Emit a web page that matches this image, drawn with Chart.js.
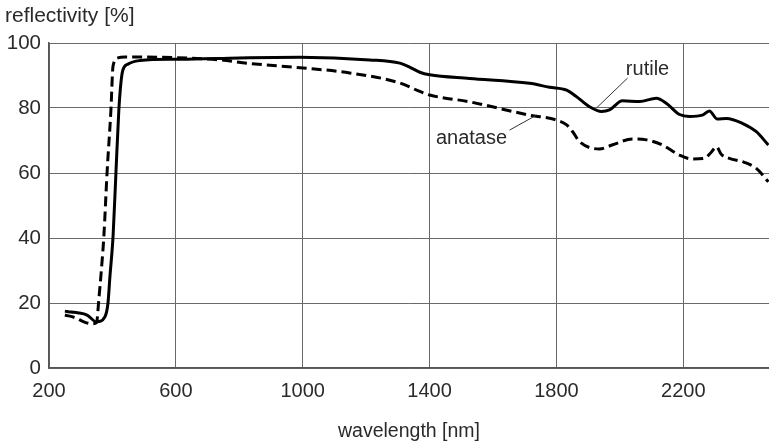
<!DOCTYPE html>
<html>
<head>
<meta charset="utf-8">
<script src="https://cdn.jsdelivr.net/npm/chart.js@4/dist/chart.umd.min.js"></script>
<style>
  html, body { margin: 0; padding: 0; background: #ffffff; }
  #wrap { position: relative; width: 769px; height: 446px; }
</style>
</head>
<body>
<div id="wrap"><canvas id="c" width="769" height="446"></canvas></div>
<script>
// ---- data ----
const xTicks = [200, 600, 1000, 1400, 1800, 2200];
const yTicks = [0, 20, 40, 60, 80, 100];

const rutileNm = [250, 270, 290, 320, 350, 376, 386, 392, 402, 411, 420, 427, 433, 449, 487, 581, 613, 800, 991, 1211, 1306, 1337, 1369, 1400, 1526, 1715, 1778, 1832, 1863, 1904, 1942, 1967, 2008, 2062, 2115, 2147, 2188, 2219, 2260, 2282, 2307, 2336, 2386, 2430, 2468];
const rutileR  = [17.5, 17.2, 17.0, 16.3, 14.2, 15.7, 20, 28, 40.6, 60, 79, 88, 91.7, 93.5, 94.6, 95.0, 95.0, 95.4, 95.6, 94.8, 93.8, 92.6, 91.0, 90.2, 89.1, 87.6, 86.4, 85.5, 83.5, 80.4, 78.9, 79.4, 82.2, 82.0, 83.0, 81.4, 78.0, 77.4, 77.8, 79.1, 76.6, 76.8, 75.3, 72.7, 68.6];

const anataseNm = [250, 285, 310, 335, 350, 357, 365, 373, 383, 395, 402, 417, 440, 600, 739, 833, 991, 1148, 1306, 1369, 1400, 1526, 1715, 1800, 1832, 1851, 1873, 1936, 1975, 2040, 2084, 2134, 2188, 2228, 2266, 2288, 2304, 2320, 2345, 2392, 2430, 2468];
const anataseR  = [16.3, 15.4, 14.2, 13.6, 14.0, 21, 30, 40.6, 60, 79, 93, 95.4, 95.7, 95.5, 94.8, 93.7, 92.4, 90.8, 87.7, 85.1, 84.0, 81.9, 77.8, 76.3, 74.8, 72.7, 69.6, 67.4, 68.6, 70.5, 70.2, 68.6, 65.5, 64.3, 64.5, 66.4, 68.1, 65.7, 64.5, 63.3, 61.4, 57.3];

// curve labels: text anchor and leader line (in data units)
const labelText   = ['rutile', 'anatase'];
const labelAt     = [[2087, 92.0], [1532, 70.5]];
const leaderFrom  = [[2024, 89.2], [1652, 73.2]];
const leaderTo    = [[1926, 80.0], [1737, 77.8]];

const xTitle = 'wavelength [nm]';
const yTitle = 'reflectivity [%]';

// ---- chart ----
const FONT = "'Liberation Sans', Arial, Helvetica, sans-serif";
const TEXT = '#2a2a2a';

const toPts = (xs, ys) => xs.map((x, i) => ({ x: x, y: ys[i] }));

const labelPlugin = {
  id: 'curveLabels',
  afterDatasetsDraw(chart) {
    const ctx = chart.ctx, xs = chart.scales.x, ys = chart.scales.y;
    ctx.save();
    ctx.strokeStyle = '#333';
    ctx.lineWidth = 1;
    for (let i = 0; i < labelText.length; i++) {
      ctx.beginPath();
      ctx.moveTo(xs.getPixelForValue(leaderFrom[i][0]), ys.getPixelForValue(leaderFrom[i][1]));
      ctx.lineTo(xs.getPixelForValue(leaderTo[i][0]), ys.getPixelForValue(leaderTo[i][1]));
      ctx.stroke();
    }
    ctx.fillStyle = TEXT;
    ctx.font = '20px ' + FONT;
    ctx.textAlign = 'center';
    ctx.textBaseline = 'middle';
    for (let i = 0; i < labelText.length; i++) {
      ctx.fillText(labelText[i], xs.getPixelForValue(labelAt[i][0]), ys.getPixelForValue(labelAt[i][1]));
    }
    ctx.textAlign = 'left';
    ctx.textBaseline = 'alphabetic';
    ctx.font = '21px ' + FONT;
    ctx.fillText(yTitle, 5, 22);
    ctx.restore();
  }
};

new Chart(document.getElementById('c'), {
  type: 'line',
  data: {
    datasets: [
      {
        label: 'rutile',
        data: toPts(rutileNm, rutileR),
        borderColor: '#000',
        borderWidth: 3,
        pointRadius: 0,
        cubicInterpolationMode: 'monotone',
        fill: false
      },
      {
        label: 'anatase',
        data: toPts(anataseNm, anataseR),
        borderColor: '#000',
        borderWidth: 3,
        borderDash: [10, 5],
        pointRadius: 0,
        cubicInterpolationMode: 'monotone',
        fill: false
      }
    ]
  },
  options: {
    responsive: false,
    animation: false,
    devicePixelRatio: 1,
    layout: { padding: { top: 43, left: 0, right: 0, bottom: 0 } },
    plugins: { legend: { display: false }, tooltip: { enabled: false } },
    scales: {
      x: {
        type: 'linear',
        min: 200,
        max: 2470,
        afterBuildTicks: (s) => { s.ticks = xTicks.map(v => ({ value: v })); },
        afterFit: (s) => { s.height = 78; },
        grid: { color: '#6a6a6a', lineWidth: 1, drawTicks: false },
        border: { display: true, color: '#555', width: 1.5 },
        ticks: { color: TEXT, font: { family: FONT, size: 20 }, padding: 11, maxRotation: 0, autoSkip: false,
                 callback: (v) => String(v) },
        title: { display: true, text: xTitle, color: TEXT, font: { family: FONT, size: 19.5 }, padding: { top: 0, bottom: 3 } }
      },
      y: {
        min: 0,
        max: 100,
        afterBuildTicks: (s) => { s.ticks = yTicks.map(v => ({ value: v })); },
        afterFit: (s) => { s.width = 49; },
        grid: { color: '#6a6a6a', lineWidth: 1, drawTicks: false },
        border: { display: true, color: '#555', width: 1.5 },
        ticks: { color: TEXT, font: { family: FONT, size: 20.5 }, padding: 8, autoSkip: false,
                 callback: (v) => String(v) }
      }
    }
  },
  plugins: [labelPlugin]
});
</script>
</body>
</html>
